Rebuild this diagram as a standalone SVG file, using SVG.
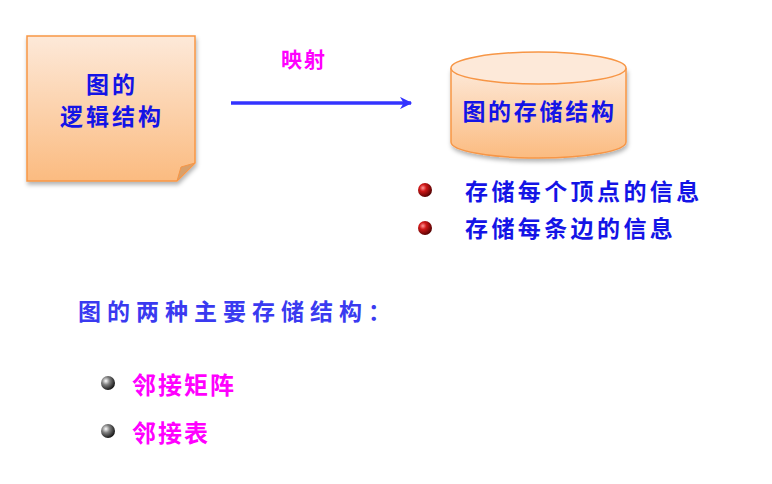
<svg xmlns="http://www.w3.org/2000/svg" width="772" height="484" viewBox="0 0 772 484">
<defs>
<linearGradient id="gOrange" x1="0" y1="0" x2="0" y2="1">
<stop offset="0" stop-color="#FDE9D9"/>
<stop offset="1" stop-color="#FBBB80"/>
</linearGradient>
<radialGradient id="gRed" cx="0.35" cy="0.35" r="0.7">
<stop offset="0" stop-color="#FF9A9A"/>
<stop offset="0.35" stop-color="#D01818"/>
<stop offset="1" stop-color="#500000"/>
</radialGradient>
<radialGradient id="gGrey" cx="0.35" cy="0.35" r="0.7">
<stop offset="0" stop-color="#FFFFFF"/>
<stop offset="0.4" stop-color="#808080"/>
<stop offset="1" stop-color="#101010"/>
</radialGradient>
<filter id="shadow" x="-10%" y="-10%" width="125%" height="130%">
<feDropShadow dx="1" dy="3" stdDeviation="2" flood-color="#000" flood-opacity="0.3"/>
</filter>
<marker id="arrow" viewBox="0 0 10 10" refX="9" refY="5" markerWidth="4" markerHeight="3.5" orient="auto" markerUnits="strokeWidth">
<path d="M0,0 L10,5 L0,10 L3,5 Z" fill="#3333FF"/>
</marker>
</defs>
<style>
.kai{font-family:"Noto Sans CJK SC","Noto Sans",sans-serif;dominant-baseline:central;font-weight:bold;}
.blue{fill:#1414E6;font-size:23px;}
.lblue{fill:#3A3AF0;font-size:23px;letter-spacing:6px;}
.mag{fill:#FF00FF;}
.big{font-size:24px;letter-spacing:2px;}
.shape{stroke:#F79646;stroke-width:1.5;}
</style>
<rect width="772" height="484" fill="#FFFFFF"/>

<g id="logical">
<path class="shape" d="M27,36 H195 V163 L177,181 H27 Z" fill="url(#gOrange)" filter="url(#shadow)"/>
<path d="M177,181 L181,167 L195,163 Z" fill="#D9A06A" stroke="#F79646" stroke-width="1"/>
<text class="kai blue" x="112" y="83" text-anchor="middle" letter-spacing="3">图的</text>
<text class="kai blue" x="112" y="115" text-anchor="middle" letter-spacing="3">逻辑结构</text>
</g>

<g id="storage">
<path class="shape" d="M451,68 V142 A87.5,16 0 0 0 626,142 V68" fill="url(#gOrange)" filter="url(#shadow)"/>
<ellipse class="shape" cx="538.5" cy="68" rx="87.5" ry="16" fill="#FDE9D9"/>
<text class="kai blue" x="539.5" y="110" text-anchor="middle" letter-spacing="2.7">图的存储结构</text>
</g>

<g id="connectors">
<line x1="231" y1="103" x2="411" y2="103" stroke="#3333FF" stroke-width="3.5" marker-end="url(#arrow)"/>
<text class="kai mag" x="304" y="58" text-anchor="middle" font-size="21" letter-spacing="2">映射</text>
</g>

<g id="storage-items">
<circle cx="425" cy="190" r="7" fill="url(#gRed)"/>
<text class="kai blue" x="465" y="190" letter-spacing="3.4">存储每个顶点的信息</text>
<circle cx="425" cy="228" r="7" fill="url(#gRed)"/>
<text class="kai blue" x="465" y="227" letter-spacing="3.4">存储每条边的信息</text>
</g>

<g id="summary">
<text class="kai lblue" x="78" y="310">图的两种主要存储结构：</text>
<circle cx="108" cy="383" r="7" fill="url(#gGrey)"/>
<text class="kai mag big" x="132" y="383">邻接矩阵</text>
<circle cx="108" cy="431" r="7" fill="url(#gGrey)"/>
<text class="kai mag big" x="132" y="431">邻接表</text>
</g>
</svg>
